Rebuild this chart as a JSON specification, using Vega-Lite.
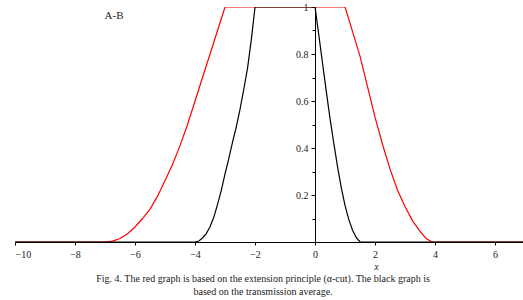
{
  "$schema": "https://vega.github.io/schema/vega-lite/v6.json",
  "autosize": "none",
  "width": 508,
  "height": 235,
  "padding": {"left": 15, "top": 7, "right": 0, "bottom": 58},
  "background": "white",
  "config": {"view": {"stroke": null}, "font": "Liberation Serif"},
  "title": {
    "text": ["Fig. 4. The red graph is based on the extension principle (α-cut). The black graph is", "based on the transmission average."],
    "orient": "bottom",
    "anchor": "middle",
    "font": "Liberation Serif",
    "fontSize": 10,
    "fontWeight": "normal",
    "color": "#222",
    "offset": 3,
    "dx": -6,
    "lineHeight": 12.5
  },
  "resolve": {"axis": {"y": "independent"}},
  "layer": [
    {
      "data": {
        "values": [
          {"x": -10, "y": 0, "s": "red"},
          {"x": -7, "y": 0, "s": "red"},
          {"x": -6.75, "y": 0.004, "s": "red"},
          {"x": -6.5, "y": 0.015, "s": "red"},
          {"x": -6.25, "y": 0.035, "s": "red"},
          {"x": -6, "y": 0.064, "s": "red"},
          {"x": -5.75, "y": 0.1, "s": "red"},
          {"x": -5.5, "y": 0.14, "s": "red"},
          {"x": -5.25, "y": 0.195, "s": "red"},
          {"x": -5, "y": 0.262, "s": "red"},
          {"x": -4.75, "y": 0.33, "s": "red"},
          {"x": -4.5, "y": 0.41, "s": "red"},
          {"x": -4.25, "y": 0.5, "s": "red"},
          {"x": -4, "y": 0.6, "s": "red"},
          {"x": -3.75, "y": 0.7, "s": "red"},
          {"x": -3.5, "y": 0.8, "s": "red"},
          {"x": -3.25, "y": 0.9, "s": "red"},
          {"x": -3, "y": 1, "s": "red"},
          {"x": 1, "y": 1, "s": "red"},
          {"x": 1.25, "y": 0.895, "s": "red"},
          {"x": 1.5, "y": 0.79, "s": "red"},
          {"x": 1.75, "y": 0.66, "s": "red"},
          {"x": 2, "y": 0.53, "s": "red"},
          {"x": 2.25, "y": 0.415, "s": "red"},
          {"x": 2.5, "y": 0.31, "s": "red"},
          {"x": 2.75, "y": 0.22, "s": "red"},
          {"x": 3, "y": 0.15, "s": "red"},
          {"x": 3.25, "y": 0.09, "s": "red"},
          {"x": 3.5, "y": 0.045, "s": "red"},
          {"x": 3.7, "y": 0.015, "s": "red"},
          {"x": 3.9, "y": 0, "s": "red"},
          {"x": 6.93, "y": 0, "s": "red"},
          {"x": -10, "y": 0, "s": "black"},
          {"x": -4, "y": 0, "s": "black"},
          {"x": -3.875, "y": 0.004, "s": "black"},
          {"x": -3.75, "y": 0.017, "s": "black"},
          {"x": -3.625, "y": 0.036, "s": "black"},
          {"x": -3.5, "y": 0.065, "s": "black"},
          {"x": -3.375, "y": 0.105, "s": "black"},
          {"x": -3.25, "y": 0.16, "s": "black"},
          {"x": -3.125, "y": 0.22, "s": "black"},
          {"x": -3, "y": 0.29, "s": "black"},
          {"x": -2.875, "y": 0.355, "s": "black"},
          {"x": -2.75, "y": 0.425, "s": "black"},
          {"x": -2.625, "y": 0.49, "s": "black"},
          {"x": -2.5, "y": 0.565, "s": "black"},
          {"x": -2.375, "y": 0.65, "s": "black"},
          {"x": -2.25, "y": 0.74, "s": "black"},
          {"x": -2.125, "y": 0.86, "s": "black"},
          {"x": -2, "y": 1, "s": "black"},
          {"x": 0, "y": 1, "s": "black"},
          {"x": 0.125, "y": 0.88, "s": "black"},
          {"x": 0.25, "y": 0.76, "s": "black"},
          {"x": 0.375, "y": 0.64, "s": "black"},
          {"x": 0.5, "y": 0.525, "s": "black"},
          {"x": 0.625, "y": 0.42, "s": "black"},
          {"x": 0.75, "y": 0.32, "s": "black"},
          {"x": 0.875, "y": 0.23, "s": "black"},
          {"x": 1, "y": 0.155, "s": "black"},
          {"x": 1.125, "y": 0.095, "s": "black"},
          {"x": 1.25, "y": 0.05, "s": "black"},
          {"x": 1.375, "y": 0.018, "s": "black"},
          {"x": 1.5, "y": 0, "s": "black"},
          {"x": 6.93, "y": 0, "s": "black"}
        ]
      },
      "mark": {"type": "line", "strokeWidth": 1.2, "clip": true},
      "encoding": {
        "x": {
          "field": "x", "type": "quantitative",
          "scale": {"domain": [-10, 6.93], "nice": false, "zero": false},
          "axis": {
            "values": [-10, -9, -8, -7, -6, -5, -4, -3, -2, -1, 0, 1, 2, 3, 4, 5, 6],
            "labelExpr": "datum.value % 2 == 0 ? datum.label : ''",
            "labelOverlap": false,
            "grid": false,
            "domainColor": "black",
            "tickColor": "black",
            "tickSize": 3,
            "labelPadding": 4,
            "labelFont": "Liberation Serif",
            "labelFontSize": 10,
            "labelColor": "#222",
            "title": "x",
            "titleFont": "Liberation Serif",
            "titleFontStyle": "italic",
            "titleFontWeight": "normal",
            "titleFontSize": 10,
            "titleColor": "#222",
            "titleX": 361,
            "titleY": 19
          }
        },
        "y": {
          "field": "y", "type": "quantitative",
          "scale": {"domain": [0, 1], "nice": false},
          "axis": {
            "orient": "left",
            "values": [0.2, 0.4, 0.6, 0.8, 1],
            "format": "~g",
            "labelOverlap": false,
            "labelFlush": false,
            "offset": -300,
            "grid": false,
            "domainColor": "black",
            "tickColor": "black",
            "tickSize": 4,
            "labelPadding": 3,
            "labelFont": "Liberation Serif",
            "labelFontSize": 10,
            "labelColor": "#222",
            "title": null
          }
        },
        "color": {
          "field": "s", "type": "nominal",
          "scale": {"domain": ["red", "black"], "range": ["#ff0000", "#000000"]},
          "legend": null
        }
      }
    },
    {
      "data": {"values": [{"label": "A-B"}]},
      "mark": {"type": "text", "font": "Liberation Serif", "fontSize": 11, "color": "#222"},
      "encoding": {
        "x": {"datum": -6.7},
        "y": {
          "datum": 0.962,
          "axis": {
            "orient": "left",
            "values": [0.1, 0.3, 0.5, 0.7, 0.9],
            "labels": false,
            "domain": false,
            "offset": -300,
            "grid": false,
            "tickColor": "black",
            "tickSize": 3,
            "title": null
          }
        },
        "text": {"field": "label"}
      }
    }
  ]
}
